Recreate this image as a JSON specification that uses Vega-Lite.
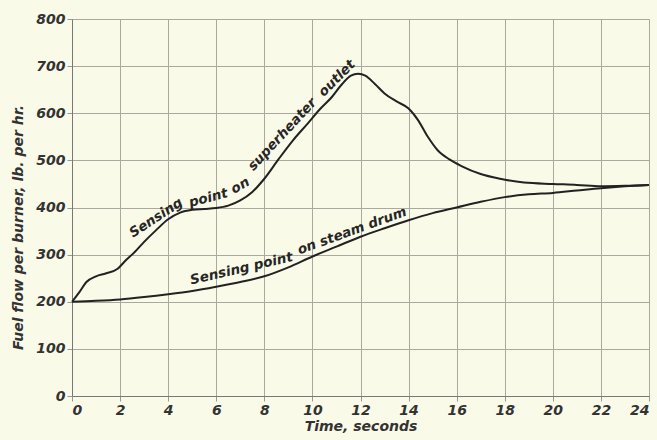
{
  "$schema": "https://vega.github.io/schema/vega-lite/v6.json",
  "width": 577,
  "height": 377,
  "autosize": {"type": "none"},
  "padding": {"left": 72, "top": 19, "right": 8, "bottom": 44},
  "background": "#fafae8",
  "config": {
    "view": {"stroke": null},
    "font": "DejaVu Sans",
    "axis": {
      "gridColor": "#a9a9a0",
      "gridWidth": 1,
      "domainColor": "#777777",
      "tickColor": "#999990",
      "tickSize": 5,
      "labelFont": "DejaVu Sans",
      "labelFontStyle": "italic",
      "labelFontWeight": "bold",
      "labelFontSize": 14,
      "labelColor": "#333333",
      "titleFont": "DejaVu Sans",
      "titleFontStyle": "italic",
      "titleFontWeight": "bold",
      "titleFontSize": 14,
      "titleColor": "#333333"
    },
    "text": {"fontSize": 13.5, "fontStyle": "italic", "fontWeight": "bold", "color": "#262626", "font": "DejaVu Sans"}
  },
  "data": {
    "values": [
      {"t": 0, "v": 200, "s": "superheater"},
      {"t": 0.3, "v": 220, "s": "superheater"},
      {"t": 0.6, "v": 242, "s": "superheater"},
      {"t": 1.0, "v": 254, "s": "superheater"},
      {"t": 1.4, "v": 260, "s": "superheater"},
      {"t": 1.9, "v": 270, "s": "superheater"},
      {"t": 2.2, "v": 286, "s": "superheater"},
      {"t": 2.6, "v": 305, "s": "superheater"},
      {"t": 3.0, "v": 327, "s": "superheater"},
      {"t": 3.5, "v": 352, "s": "superheater"},
      {"t": 4.0, "v": 375, "s": "superheater"},
      {"t": 4.5, "v": 389, "s": "superheater"},
      {"t": 5.0, "v": 395, "s": "superheater"},
      {"t": 5.5, "v": 397, "s": "superheater"},
      {"t": 6.0, "v": 399, "s": "superheater"},
      {"t": 6.5, "v": 404, "s": "superheater"},
      {"t": 7.0, "v": 415, "s": "superheater"},
      {"t": 7.5, "v": 433, "s": "superheater"},
      {"t": 8.0, "v": 461, "s": "superheater"},
      {"t": 8.6, "v": 503, "s": "superheater"},
      {"t": 9.2, "v": 543, "s": "superheater"},
      {"t": 9.8, "v": 578, "s": "superheater"},
      {"t": 10.3, "v": 608, "s": "superheater"},
      {"t": 10.8, "v": 634, "s": "superheater"},
      {"t": 11.2, "v": 660, "s": "superheater"},
      {"t": 11.6, "v": 680, "s": "superheater"},
      {"t": 11.9, "v": 684, "s": "superheater"},
      {"t": 12.2, "v": 680, "s": "superheater"},
      {"t": 12.6, "v": 662, "s": "superheater"},
      {"t": 13.0, "v": 642, "s": "superheater"},
      {"t": 13.5, "v": 625, "s": "superheater"},
      {"t": 14.0, "v": 610, "s": "superheater"},
      {"t": 14.4, "v": 585, "s": "superheater"},
      {"t": 14.8, "v": 550, "s": "superheater"},
      {"t": 15.2, "v": 522, "s": "superheater"},
      {"t": 15.7, "v": 502, "s": "superheater"},
      {"t": 16.2, "v": 488, "s": "superheater"},
      {"t": 17.0, "v": 471, "s": "superheater"},
      {"t": 17.8, "v": 461, "s": "superheater"},
      {"t": 18.8, "v": 453, "s": "superheater"},
      {"t": 20, "v": 450, "s": "superheater"},
      {"t": 21, "v": 448, "s": "superheater"},
      {"t": 22, "v": 445, "s": "superheater"},
      {"t": 23, "v": 446, "s": "superheater"},
      {"t": 24, "v": 448, "s": "superheater"},
      {"t": 0, "v": 200, "s": "drum"},
      {"t": 1, "v": 202, "s": "drum"},
      {"t": 2, "v": 205, "s": "drum"},
      {"t": 3, "v": 210, "s": "drum"},
      {"t": 4, "v": 216, "s": "drum"},
      {"t": 5, "v": 223, "s": "drum"},
      {"t": 6, "v": 232, "s": "drum"},
      {"t": 7, "v": 242, "s": "drum"},
      {"t": 8, "v": 254, "s": "drum"},
      {"t": 9, "v": 273, "s": "drum"},
      {"t": 10, "v": 296, "s": "drum"},
      {"t": 11, "v": 317, "s": "drum"},
      {"t": 12, "v": 338, "s": "drum"},
      {"t": 13, "v": 356, "s": "drum"},
      {"t": 14, "v": 373, "s": "drum"},
      {"t": 15, "v": 388, "s": "drum"},
      {"t": 16, "v": 400, "s": "drum"},
      {"t": 17, "v": 412, "s": "drum"},
      {"t": 18, "v": 422, "s": "drum"},
      {"t": 19, "v": 428, "s": "drum"},
      {"t": 20, "v": 431, "s": "drum"},
      {"t": 21, "v": 436, "s": "drum"},
      {"t": 22, "v": 441, "s": "drum"},
      {"t": 23, "v": 445, "s": "drum"},
      {"t": 24, "v": 448, "s": "drum"}
    ]
  },
  "encoding": {
    "x": {
      "field": "t",
      "type": "quantitative",
      "scale": {"domain": [0, 24], "nice": false},
      "axis": {
        "values": [0, 2, 4, 6, 8, 10, 12, 14, 16, 18, 20, 22, 24],
        "title": "Time, seconds",
        "labelPadding": 2,
        "titlePadding": 2
      }
    },
    "y": {
      "field": "v",
      "type": "quantitative",
      "scale": {"domain": [0, 800], "nice": false},
      "axis": {
        "values": [0, 100, 200, 300, 400, 500, 600, 700, 800],
        "title": "Fuel flow per burner, lb. per hr.",
        "labelPadding": 2,
        "titleX": -54,
        "titleY": 208,
        "titleAlign": "center",
        "titleBaseline": "middle"
      }
    }
  },
  "layer": [
    {
      "mark": {"type": "line", "color": "#222222", "strokeWidth": 2, "interpolate": "monotone"},
      "encoding": {"detail": {"field": "s", "type": "nominal"}}
    },
    {
      "data": {"values": [{"t": 3.5, "v": 378, "label": "Sensing"}]},
      "mark": {"type": "text", "angle": -33},
      "encoding": {"text": {"field": "label"}}
    },
    {
      "data": {"values": [{"t": 5.67, "v": 420, "label": "point"}]},
      "mark": {"type": "text", "angle": -15},
      "encoding": {"text": {"field": "label"}}
    },
    {
      "data": {"values": [{"t": 7.0, "v": 446, "label": "on"}]},
      "mark": {"type": "text", "angle": -30},
      "encoding": {"text": {"field": "label"}}
    },
    {
      "data": {"values": [{"t": 8.75, "v": 555, "label": "superheater"}]},
      "mark": {"type": "text", "angle": -47},
      "encoding": {"text": {"field": "label"}}
    },
    {
      "data": {"values": [{"t": 11.02, "v": 674, "label": "outlet"}]},
      "mark": {"type": "text", "angle": -45},
      "encoding": {"text": {"field": "label"}}
    },
    {
      "data": {"values": [{"t": 7.05, "v": 270, "label": "Sensing point"}]},
      "mark": {"type": "text", "angle": -13},
      "encoding": {"text": {"field": "label"}}
    },
    {
      "data": {"values": [{"t": 11.65, "v": 350, "label": "on steam drum"}]},
      "mark": {"type": "text", "angle": -20},
      "encoding": {"text": {"field": "label"}}
    }
  ]
}
